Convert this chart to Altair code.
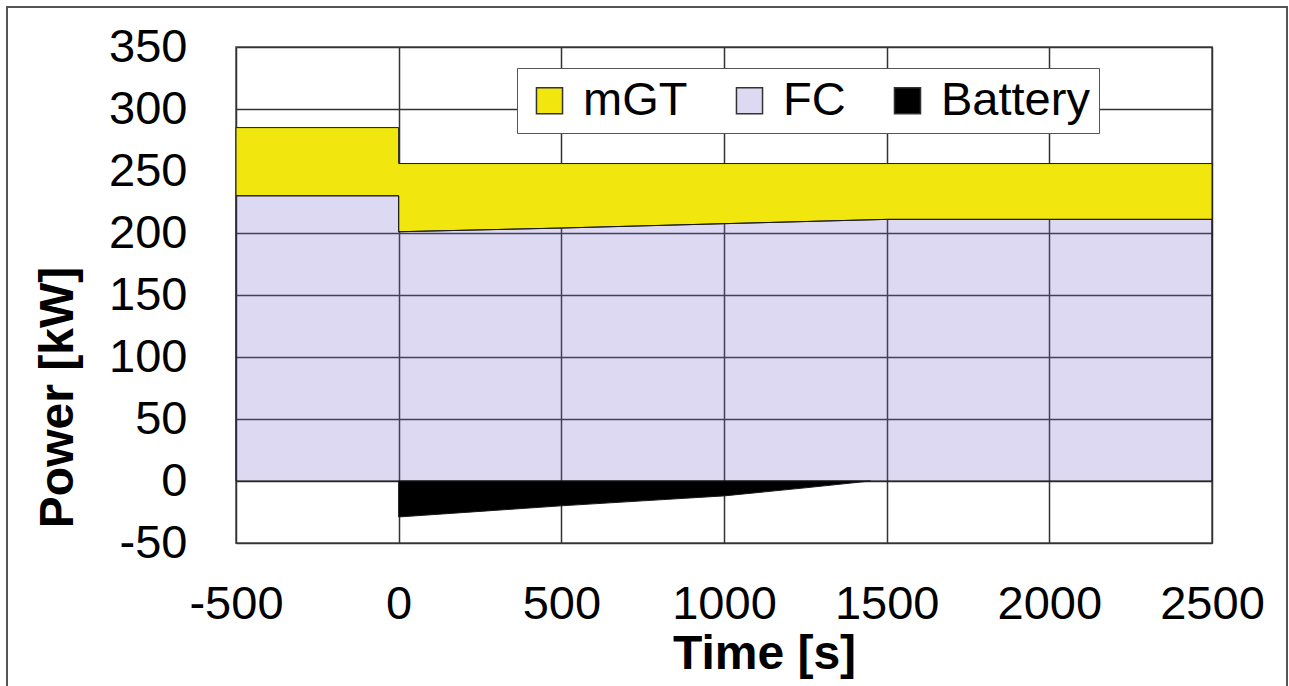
import altair as alt
import pandas as pd

# ---- data ----
series_names = ["mGT", "FC", "Battery"]
series_colors = ["#f1e70f", "rgba(125,105,205,0.25)", "#000000"]

time_fc = [-500, 0, 0, 500, 1000, 1500, 2500]
fc_top = [230, 230, 201, 204, 207.5, 211, 211]
mgt_top = [285, 285, 256, 256, 256, 256, 256]

time_bat = [0, 0, 250, 500, 750, 1000, 1250, 1450]
bat_low = [0, -29, -24.5, -20, -16, -12, -5.5, 0]

x_ticks = [-500, 0, 500, 1000, 1500, 2000, 2500]
y_ticks = [-50, 0, 50, 100, 150, 200, 250, 300, 350]

rows = []
for i, t in enumerate(time_fc):
    rows.append({"t": t, "lo": fc_top[i], "hi": mgt_top[i], "s": "mGT"})
for i, t in enumerate(time_fc):
    rows.append({"t": t, "lo": 0, "hi": fc_top[i], "s": "FC"})
for i, t in enumerate(time_bat):
    rows.append({"t": t, "lo": bat_low[i], "hi": 0, "s": "Battery"})
df = pd.DataFrame(rows)

FONT = "Liberation Sans"
NEG = "datum.value < 0 ? '-' + abs(datum.value) : '' + datum.value"

areas = alt.Chart(df).mark_area(stroke="#1a1a1a", strokeWidth=1).encode(
    x=alt.X("t:Q",
            scale=alt.Scale(domain=[-500, 2500], nice=False, zero=False),
            axis=alt.Axis(values=x_ticks, title="Time [s]", labelExpr=NEG,
                          labelFlush=False, labelPadding=38, titleX=528, titleY=125,
                          titleAlign="center", titleBaseline="alphabetic")),
    y=alt.Y("lo:Q",
            scale=alt.Scale(domain=[-50, 350], nice=False, zero=False),
            axis=alt.Axis(values=y_ticks, title="Power [kW]", labelExpr=NEG,
                          labelFlush=False, labelPadding=49, titleX=-178, titleY=350,
                          titleAngle=-90, titleAlign="center", titleBaseline="middle")),
    y2="hi:Q",
    color=alt.Color("s:N",
                    scale=alt.Scale(domain=series_names, range=series_colors),
                    legend=alt.Legend(title=None, orient="none", legendX=281, legendY=21,
                                      direction="horizontal", padding=9,
                                      strokeColor="#555555", fillColor="white",
                                      labelFontSize=47, labelFont=FONT, labelColor="black",
                                      symbolType="square", symbolSize=680,
                                      symbolStrokeColor="#333333", symbolStrokeWidth=1.5,
                                      columnPadding=38, labelOffset=10)),
)

frame = alt.Chart(pd.DataFrame({"a": [0]})).mark_rect(
    fillOpacity=0, stroke="#555555", strokeWidth=2
).encode(x=alt.value(-229), x2=alt.value(1051), y=alt.value(-40), y2=alt.value(700))

chart = alt.layer(frame, areas).properties(
    width=976, height=496,
    autosize=alt.AutoSizeParams(type="none"),
    padding={"left": 236, "top": 47, "right": 77, "bottom": 143},
    background="white",
).configure_axis(
    grid=True, gridColor="#333333", gridWidth=1.5, gridOpacity=1,
    domain=False, ticks=False, tickSize=0,
    labelFont=FONT, labelFontSize=47, labelColor="black",
    titleFont=FONT, titleFontSize=48, titleFontWeight="bold", titleColor="black",
).configure_view(stroke="#7f7f7f", strokeWidth=2)

chart.save("out.html", embed_options={"renderer": "svg", "actions": False})
